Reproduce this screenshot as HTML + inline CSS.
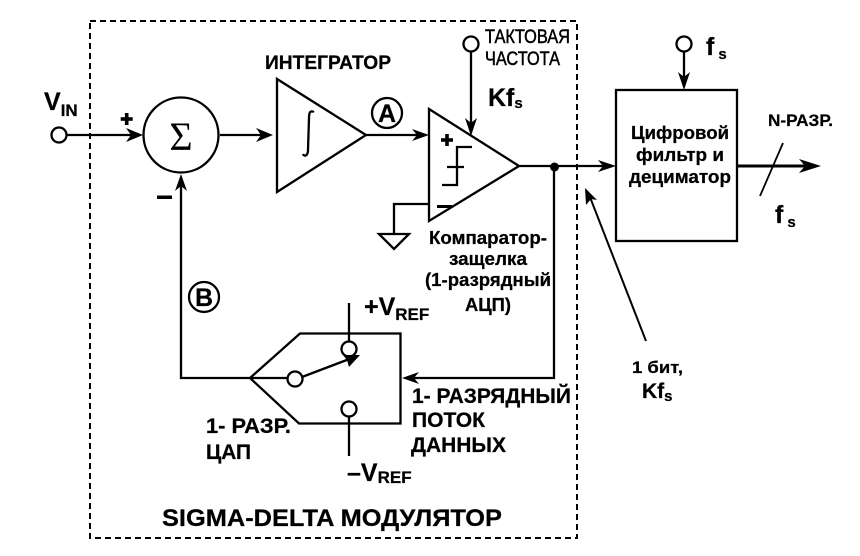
<!DOCTYPE html>
<html><head><meta charset="utf-8">
<style>
html,body{margin:0;padding:0;background:#fff;width:860px;height:556px;overflow:hidden}
svg{display:block}
text{font-family:"Liberation Sans",sans-serif;font-weight:bold;fill:#000;stroke:#000;stroke-width:.25}
.l{fill:none;stroke:#000;stroke-width:2.3}
</style></head><body>
<svg width="860" height="556" viewBox="0 0 860 556" xmlns="http://www.w3.org/2000/svg">
<rect x="90" y="21" width="487" height="517" fill="none" stroke="#000" stroke-width="2" stroke-dasharray="6 4"/>

<!-- Vin -->
<circle class="l" cx="59" cy="135" r="7.5"/>
<path class="l" d="M67 135H135"/>
<path d="M143 135L126 128L131 135L126 142Z"/>
<text x="44" y="110" font-size="25">V<tspan font-size="17" dy="6">IN</tspan></text>
<rect x="120.700" y="117.200" width="12" height="3.600"/>
<rect x="124.900" y="113" width="3.600" height="12"/>
<rect x="157" y="195.500" width="15" height="3.500"/>

<!-- Sum -->
<circle class="l" cx="181" cy="135" r="37.500"/>
<text x="181" y="150" font-size="40" text-anchor="middle" style="font-family:'Liberation Serif',serif;font-weight:normal;stroke-width:0">Σ</text>
<path class="l" d="M220 135H265"/>
<path d="M273 135L256 128L261 135L256 142Z"/>

<!-- Integrator -->
<path class="l" d="M277 79V192L366 135Z"/>
<path d="M314 112C310 110 309 113 309 118L308 150C308 156 304 157 303 154" fill="none" stroke="#000" stroke-width="2.300"/>
<text x="265" y="69" font-size="19" textLength="126" lengthAdjust="spacingAndGlyphs">ИНТЕГРАТОР</text>
<path class="l" d="M366 135H422"/>
<path d="M429 135L412 129L417 135L412 141Z"/>
<circle class="l" cx="387" cy="113" r="15"/>
<text x="387" y="122" font-size="25" text-anchor="middle">A</text>

<!-- Comparator -->
<path class="l" d="M429 109V221L519 166Z"/>
<path class="l" d="M519 166H608"/>
<path d="M616 166L598 160L603 166L598 172Z"/>
<circle cx="554.500" cy="167" r="4.500"/>
<rect x="441" y="138.200" width="12" height="3.600"/>
<rect x="445.200" y="134" width="3.600" height="12"/>
<rect x="437" y="205" width="15" height="3"/>
<path class="l" d="M442 185H457V147H472M447 167H464"/>
<path class="l" d="M429 204H394V234"/>
<path class="l" d="M379 234H409L394 249Z"/>

<!-- Clock -->
<circle class="l" cx="471" cy="44" r="7.500"/>
<path class="l" d="M471 52V128"/>
<path d="M471 136L465 118L471 123L477 118Z"/>
<text x="485" y="43" font-size="19" textLength="85" lengthAdjust="spacingAndGlyphs" style="font-weight:normal;stroke-width:.5">ТАКТОВАЯ</text>
<text x="485" y="65" font-size="19" textLength="75" lengthAdjust="spacingAndGlyphs" style="font-weight:normal;stroke-width:.5">ЧАСТОТА</text>
<text x="488" y="106" font-size="25">Kf<tspan font-size="15" dy="2">s</tspan></text>

<text x="429" y="244" font-size="18" textLength="118" lengthAdjust="spacingAndGlyphs">Компаратор-</text>
<text x="449" y="265" font-size="18" textLength="78" lengthAdjust="spacingAndGlyphs">защелка</text>
<text x="425" y="286" font-size="18" textLength="126" lengthAdjust="spacingAndGlyphs">(1-разрядный</text>
<text x="465" y="311" font-size="18" textLength="46" lengthAdjust="spacingAndGlyphs">АЦП)</text>

<!-- Feedback -->
<path class="l" d="M554 167V378H410"/>
<path d="M402 378L419 372L414 378L419 384Z"/>
<path class="l" d="M250 378H181V182"/>
<path d="M181 174L175 191L181 186L187 191Z"/>
<circle class="l" cx="204" cy="297" r="15"/>
<text x="204" y="306" font-size="25" text-anchor="middle">B</text>

<!-- DAC -->
<path class="l" d="M250 378L300 333.500H400.500V423.500H299Z"/>
<path class="l" d="M250 378H288"/>
<circle class="l" cx="295" cy="379" r="7.500" style="fill:#fff"/>
<path class="l" d="M302 377L352 358"/>
<path d="M360 355L343 355L347 360L349 367Z"/>
<circle class="l" cx="349" cy="349" r="7.500"/>
<path class="l" d="M349 303V341"/>
<circle class="l" cx="349" cy="409" r="7.500"/>
<path class="l" d="M349 417V456"/>
<text x="364" y="315" font-size="25">+V<tspan font-size="17" dy="5">REF</tspan></text>
<text x="347" y="481" font-size="25">–V<tspan font-size="17" dy="2">REF</tspan></text>
<text x="206" y="433" font-size="21" textLength="85" lengthAdjust="spacingAndGlyphs">1- РАЗР.</text>
<text x="206" y="459" font-size="21" textLength="45" lengthAdjust="spacingAndGlyphs">ЦАП</text>
<text x="412" y="403" font-size="21" textLength="159" lengthAdjust="spacingAndGlyphs">1- РАЗРЯДНЫЙ</text>
<text x="412" y="427" font-size="21" textLength="73" lengthAdjust="spacingAndGlyphs">ПОТОК</text>
<text x="411" y="452" font-size="21" textLength="95" lengthAdjust="spacingAndGlyphs">ДАННЫХ</text>
<text x="162" y="526" font-size="24.500" textLength="340" lengthAdjust="spacingAndGlyphs">SIGMA-DELTA МОДУЛЯТОР</text>

<!-- Filter -->
<rect x="616" y="90" width="121" height="151" fill="none" stroke="#000" stroke-width="2.300"/>
<circle class="l" cx="684" cy="44" r="7.500"/>
<path class="l" d="M684 52V82"/>
<path d="M684 90L678 72L684 77L690 72Z"/>
<text x="706" y="55" font-size="25">f<tspan font-size="15" dx="4" dy="4">s</tspan></text>
<text x="631" y="139" font-size="18" textLength="98" lengthAdjust="spacingAndGlyphs">Цифровой</text>
<text x="636" y="161" font-size="18" textLength="88" lengthAdjust="spacingAndGlyphs">фильтр и</text>
<text x="629" y="183" font-size="18" textLength="102" lengthAdjust="spacingAndGlyphs">дециматор</text>
<path d="M737 166H810" fill="none" stroke="#000" stroke-width="3"/>
<path d="M821 166L799 159L805 166L799 173Z"/>
<path d="M783 143L760 196" fill="none" stroke="#000" stroke-width="1.800"/>
<text x="768" y="126" font-size="17" textLength="65" lengthAdjust="spacingAndGlyphs">N-РАЗР.</text>
<text x="775" y="223" font-size="25">f<tspan font-size="15" dx="4" dy="4">s</tspan></text>

<!-- 1 bit -->
<path d="M646 341L588 192" fill="none" stroke="#000" stroke-width="2"/>
<path d="M585 188L586 205L591 199L597 200Z"/>
<text x="632" y="373" font-size="17" textLength="51" lengthAdjust="spacingAndGlyphs">1 бит,</text>
<text x="642" y="398" font-size="21">Kf<tspan font-size="15" dy="3">s</tspan></text>
</svg>
</body></html>
